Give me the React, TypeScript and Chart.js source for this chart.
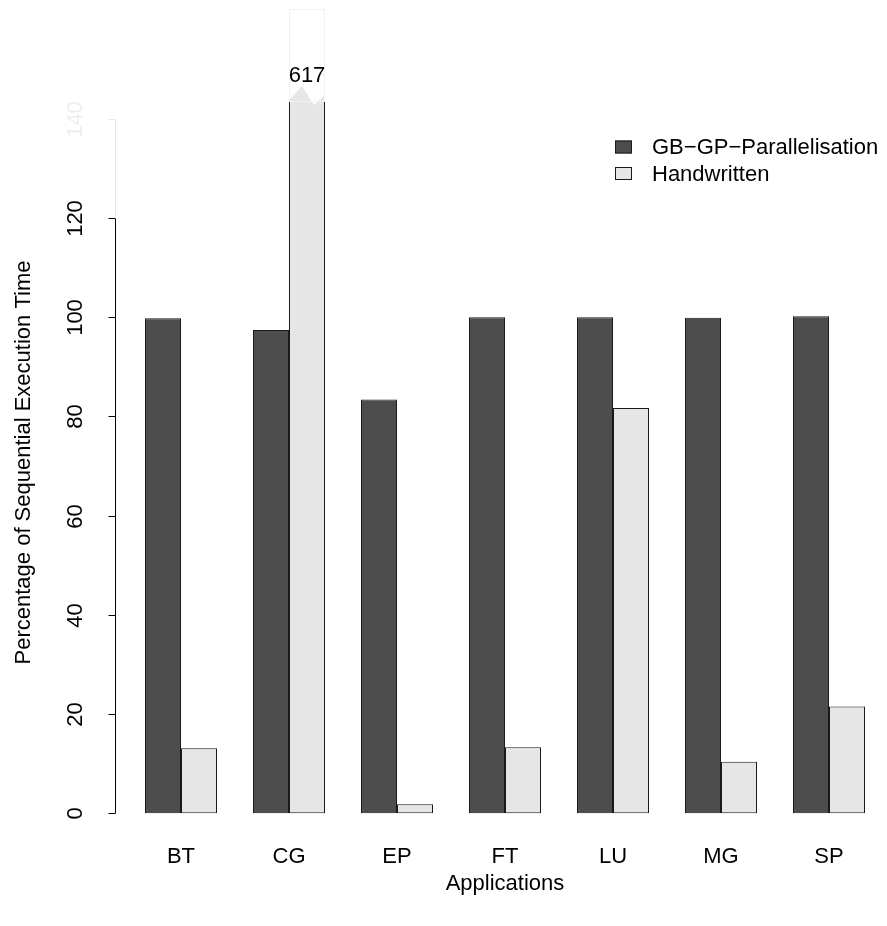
import React, { useEffect, useRef } from "react";
import { Chart, registerables } from "chart.js";

Chart.register(...registerables);

// ---- data ----
const categories = ["BT", "CG", "EP", "FT", "LU", "MG", "SP"];
const gbgpValues = [99.8, 97.4, 83.4, 100.0, 100.0, 99.9, 100.2];
const handwrittenValues = [13.1, 617, 1.8, 13.3, 81.7, 10.4, 21.5];
const seriesNames = ["GB\u2212GP\u2212Parallelisation", "Handwritten"];
const yTicks = [0, 20, 40, 60, 80, 100, 120, 140];
const fadedTicks = [140];
const brokenBarLabel = "617";
const yTitle = "Percentage of Sequential Execution Time";
const xTitle = "Applications";

const FONT = '"Liberation Sans", Arial, Helvetica, sans-serif';
const FONT_SIZE = 22;
const DARK = "#4d4d4d";
const LIGHT = "#e6e6e6";
const EDGE = "#1a1a1a";

if (typeof document !== "undefined") {
  document.body.style.margin = "0";
}

const rBasePlugin = {
  id: "rBase",
  afterDraw(chart: any) {
    const ctx = chart.ctx as CanvasRenderingContext2D;
    const ys = chart.scales.y;
    const area = chart.chartArea;
    ctx.save();

    // ---- broken (clipped) bar for CG handwritten ----
    const bar = chart.getDatasetMeta(1).data[1];
    const { x, width } = bar.getProps(["x", "width"], true);
    const l = x - width / 2;
    const r = x + width / 2;
    ctx.fillStyle = "#ffffff";
    ctx.beginPath();
    ctx.moveTo(l - 1, 0);
    ctx.lineTo(l - 1, area.top + 17.5);
    ctx.lineTo(l + 13, area.top + 2);
    ctx.lineTo(l + 25, area.top + 21);
    ctx.lineTo(r + 1, area.top + 10);
    ctx.lineTo(r + 1, 0);
    ctx.closePath();
    ctx.fill();
    ctx.strokeStyle = "#f2f2f2";
    ctx.lineWidth = 1;
    ctx.strokeRect(Math.round(l) + 0.5, 9.5, Math.round(width) - 1, area.top + 8);
    ctx.fillStyle = "#000";
    ctx.font = `${FONT_SIZE}px ${FONT}`;
    ctx.textAlign = "center";
    ctx.textBaseline = "middle";
    ctx.fillText(brokenBarLabel, x, 76);

    // ---- y axis (R style) ----
    const axisX = Math.round(area.left - 12) + 0.5;
    const p0 = ys.getPixelForValue(yTicks[0]);
    const solidTop = ys.getPixelForValue(
      Math.max(...yTicks.filter((t) => !fadedTicks.includes(t)))
    );
    const pTop = ys.getPixelForValue(yTicks[yTicks.length - 1]);
    ctx.lineWidth = 1;
    ctx.strokeStyle = "#000";
    ctx.beginPath();
    ctx.moveTo(axisX, Math.round(p0) + 0.5);
    ctx.lineTo(axisX, Math.round(solidTop) + 0.5);
    ctx.stroke();
    ctx.strokeStyle = "#e6e6e6";
    ctx.beginPath();
    ctx.moveTo(axisX, Math.round(solidTop) + 0.5);
    ctx.lineTo(axisX, Math.round(pTop) + 0.5);
    ctx.stroke();

    yTicks.forEach((t) => {
      const py = Math.round(ys.getPixelForValue(t)) + 0.5;
      const faded = fadedTicks.includes(t);
      ctx.strokeStyle = faded ? "#e6e6e6" : "#000";
      ctx.beginPath();
      ctx.moveTo(axisX - 7, py);
      ctx.lineTo(axisX, py);
      ctx.stroke();
      ctx.save();
      ctx.translate(76, py);
      ctx.rotate(-Math.PI / 2);
      ctx.fillStyle = faded ? "#eeeeee" : "#000";
      ctx.textAlign = "center";
      ctx.textBaseline = "middle";
      ctx.fillText(String(t), 0, 0);
      ctx.restore();
    });

    // ---- y title ----
    ctx.save();
    ctx.translate(24, (area.top + area.bottom) / 2);
    ctx.rotate(-Math.PI / 2);
    ctx.fillStyle = "#000";
    ctx.textAlign = "center";
    ctx.textBaseline = "middle";
    ctx.fillText(yTitle, 0, 0);
    ctx.restore();

    // ---- legend ----
    const colors = [DARK, LIGHT];
    seriesNames.forEach((name, i) => {
      const cy = 147 + i * 26.5;
      ctx.fillStyle = colors[i];
      ctx.fillRect(615, cy - 6.5, 17, 13);
      ctx.strokeStyle = EDGE;
      ctx.strokeRect(615.5, cy - 6, 16, 12);
      ctx.fillStyle = "#000";
      ctx.textAlign = "left";
      ctx.textBaseline = "middle";
      ctx.fillText(name, 652, cy + 1);
    });

    ctx.restore();
  },
};

export default function App() {
  const canvasRef = useRef<HTMLCanvasElement | null>(null);

  useEffect(() => {
    const canvas = canvasRef.current;
    if (!canvas) return;
    const chart = new Chart(canvas, {
      type: "bar",
      data: {
        labels: categories,
        datasets: [
          {
            label: seriesNames[0],
            data: gbgpValues,
            backgroundColor: DARK,
            borderColor: EDGE,
            borderWidth: 1,
            borderSkipped: false,
            categoryPercentage: 2 / 3,
            barPercentage: 1,
          },
          {
            label: seriesNames[1],
            data: handwrittenValues,
            backgroundColor: LIGHT,
            borderColor: EDGE,
            borderWidth: 1,
            borderSkipped: false,
            categoryPercentage: 2 / 3,
            barPercentage: 1,
          },
        ],
      },
      options: {
        responsive: false,
        animation: false,
        devicePixelRatio: 1,
        layout: { padding: { left: 127, right: 4, top: 84, bottom: 0 } },
        plugins: {
          legend: { display: false },
          tooltip: { enabled: false },
        },
        scales: {
          x: {
            grid: { display: false, drawTicks: false },
            border: { display: false },
            ticks: {
              color: "#000",
              font: { family: FONT, size: FONT_SIZE },
              padding: 3,
            },
            title: {
              display: true,
              text: xTitle,
              color: "#000",
              font: { family: FONT, size: FONT_SIZE },
              padding: { top: 0, bottom: 29 },
            },
            afterFit(scale: any) {
              scale.height = 85;
            },
          },
          y: {
            display: false,
            min: -5.6,
            max: 147,
          },
        },
      },
      plugins: [rBasePlugin],
    });
    return () => chart.destroy();
  }, []);

  return (
    <div style={{ width: 887, height: 926, background: "#fff" }}>
      <canvas ref={canvasRef} width={887} height={926} style={{ display: "block" }} />
    </div>
  );
}
